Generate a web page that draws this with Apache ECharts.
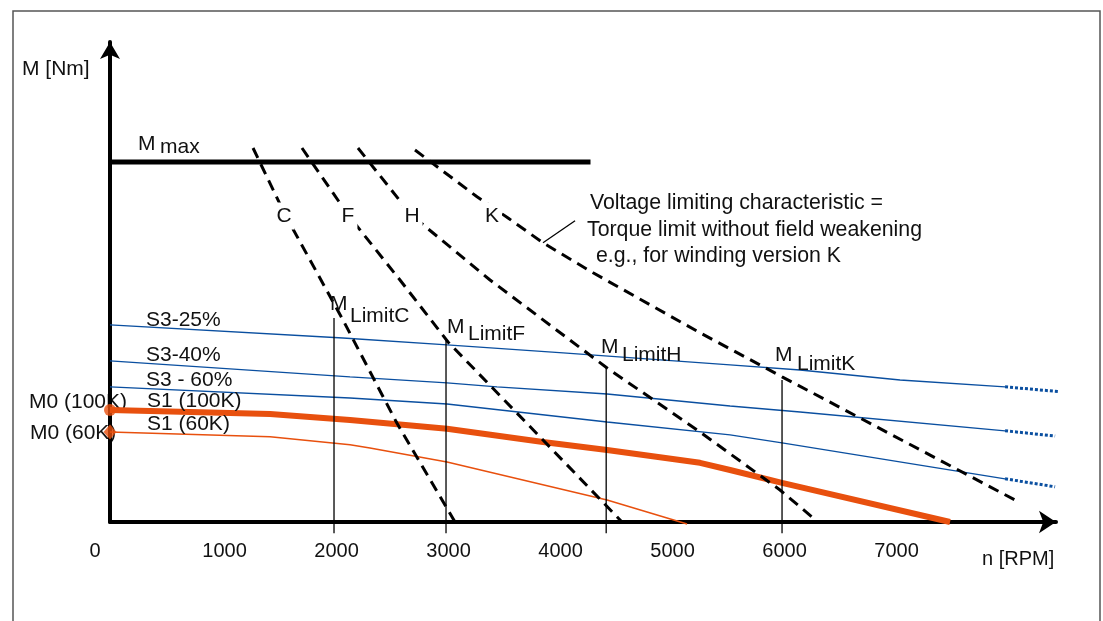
<!DOCTYPE html>
<html><head><meta charset="utf-8">
<script src="https://cdn.jsdelivr.net/npm/echarts@6/dist/echarts.min.js"></script>
<style>html,body{margin:0;padding:0;background:#fff}#c{width:1103px;height:621px}</style>
</head><body><div id="c"></div>
<script>
// ---- data (x: n [RPM], y: M [arbitrary Nm units]) ----
const xTicks = [0, 1000, 2000, 3000, 4000, 5000, 6000, 7000];
const xTickLabels = ['0', '1000', '2000', '3000', '4000', '5000', '6000', '7000'];
const mMax = [[0, 90], [4290, 90]];
const curveC = [[1277, 93.5], [1560, 77], [2080, 50.5], [2560, 24.8], [3080, 0]];
const curveF = [[1714, 93.5], [2125, 76.8], [2589, 60.5], [3018, 45], [3866, 20.5], [4571, 0]];
const curveH = [[2214, 93.5], [2688, 76.8], [3393, 60.5], [4438, 38.5], [5268, 22.5], [5982, 8], [6321, 0]];
const curveK = [[2723, 93], [3277, 81.3], [3554, 76], [3866, 69.8], [4313, 62.3], [5268, 47.3], [6000, 36.3], [8080, 5.5]];
const s3_25 = [[0, 49.3], [2080, 46], [3009, 44.3], [4045, 42.3], [5536, 39.3], [6161, 38], [7054, 35.5], [7991, 33.8]];
const s3_25ext = [[7991, 33.8], [8589, 32.3]];
const s3_40 = [[0, 40.3], [2143, 36.3], [3009, 34.8], [3455, 33.8], [4438, 32], [5536, 29], [6161, 27.5], [7991, 22.8]];
const s3_40ext = [[7991, 22.8], [8438, 21.5]];
const s3_60 = [[0, 33.8], [2143, 31], [3009, 29.5], [4438, 25], [5536, 21.8], [6000, 19.8], [7991, 10.8]];
const s3_60ext = [[7991, 10.8], [8438, 8.8]];
const s1_100K = [[0, 28], [1429, 27], [2143, 25.5], [3009, 23.3], [3866, 20], [4438, 18], [5268, 14.8], [5536, 13], [6000, 9.8], [7500, 0]];
const s1_60K = [[0, 22.5], [1429, 21.3], [2143, 19.3], [2321, 18.5], [3009, 15], [4438, 5.5], [5152, -0.5]];
const m0_100K = [[0, 28]];
const m0_60K = [[0, 22.5]];
const limitX = [2000, 3000, 4430, 6000];
const limitTop = [51, 45.3, 38.8, 35.5];
const limitBottom = -2.8;
const leader = [[3866, 69.8], [4152, 75.3]];

const FONT = 'Liberation Sans, Arial, sans-serif';
const ORANGE = '#e8500e';
const BLUE = '#0a4fa0';
const DASH = [11, 7];

function line(data, color, width, type, z) {
  return { type: 'line', data: data, symbol: 'none', clip: false, silent: true, animation: false,
    z: z || 2, lineStyle: { color: color, width: width, type: type || 'solid', cap: 'butt' } };
}

const series = [
  line(s3_25, BLUE, 1.3), line(s3_25ext, BLUE, 3, [3, 2]),
  line(s3_40, BLUE, 1.3), line(s3_40ext, BLUE, 3, [3, 2]),
  line(s3_60, BLUE, 1.3), line(s3_60ext, BLUE, 3, [3, 2]),
  line(s1_60K, ORANGE, 1.5),
  line(s1_100K, ORANGE, 6),
  line(mMax, '#000', 5),
  line(curveC, '#000', 3, DASH, 3),
  line(curveF, '#000', 3, DASH, 3),
  line(curveH, '#000', 3, DASH, 3),
  line(curveK, '#000', 3, DASH, 3),
  line(leader, '#000', 1.3, 'solid', 3)
];
limitX.forEach(function (x, i) {
  series.push(line([[x, limitTop[i]], [x, limitBottom]], '#000', 1.3, 'solid', 3));
});
series.push({ type: 'scatter', data: m0_100K, symbol: 'circle', symbolSize: 12, clip: false, silent: true,
  itemStyle: { color: ORANGE }, z: 5, animation: false });
series.push({ type: 'scatter', data: m0_60K, symbol: 'diamond', symbolSize: [13, 15], clip: false, silent: true,
  itemStyle: { color: ORANGE }, z: 5, animation: false });

function txt(t, x, y, size, opts) {
  const o = { type: 'text', x: x, y: y, z: 50,
    style: Object.assign({ text: t, fill: '#111', font: (size || 21) + 'px ' + FONT,
      align: 'left', verticalAlign: 'middle' }, opts || {}) };
  return o;
}
const gapBg = { backgroundColor: '#fff', padding: [3, 3], align: 'center' };

const graphic = [
  { type: 'rect', shape: { x: 13, y: 11, width: 1087, height: 650 }, z: 0,
    style: { fill: 'none', stroke: '#555', lineWidth: 1.5 } },
  txt('M [Nm]', 22, 69),
  txt('n [RPM]', 982, 559, 20),
  txt('M', 138, 144), txt('max', 160, 147),
  txt('C', 284, 216, 21, gapBg), txt('F', 348, 216, 21, gapBg),
  txt('H', 412, 216, 21, gapBg), txt('K', 492, 216, 21, gapBg),
  txt('Voltage limiting characteristic =', 590, 203, 21.3),
  txt('Torque limit without field weakening', 587, 230, 21.3),
  txt('e.g., for winding version K', 596, 256, 21.3),
  txt('M', 330, 304), txt('LimitC', 350, 316),
  txt('M', 447, 327), txt('LimitF', 468, 334),
  txt('M', 601, 347), txt('LimitH', 622, 355),
  txt('M', 775, 355), txt('LimitK', 797, 364),
  txt('S3-25%', 146, 320), txt('S3-40%', 146, 355), txt('S3 - 60%', 146, 380),
  txt('S1 (100K)', 147, 401), txt('S1 (60K)', 147, 424),
  Object.assign(txt('M0 (100K)', 29, 402), { z: -1 }),
  Object.assign(txt('M0 (60K)', 30, 433), { z: -1 })
];

const chart = echarts.init(document.getElementById('c'), null, { renderer: 'canvas' });
chart.setOption({
  animation: false,
  backgroundColor: '#fff',
  grid: { left: 110, right: 47, top: 42, bottom: 99 },
  xAxis: {
    type: 'value', min: 0, max: 8446, interval: 1000,
    axisLine: { show: true, onZero: false, symbol: ['none', 'arrow'], symbolSize: [17, 17],
      lineStyle: { color: '#000', width: 4 } },
    axisTick: { show: false }, splitLine: { show: false },
    axisLabel: {
      margin: 19, color: '#111', fontSize: 20, fontFamily: FONT, showMaxLabel: false,
      formatter: function (v) {
        const i = xTicks.indexOf(v);
        if (i < 0) return '';
        return i === 0 ? '{z|' + xTickLabels[i] + '}' : '{n|' + xTickLabels[i] + '}';
      },
      rich: {
        z: { fontSize: 20, fontFamily: FONT, color: '#111', padding: [0, 30, 0, 0] },
        n: { fontSize: 20, fontFamily: FONT, color: '#111', padding: [0, 0, 0, 5] }
      }
    }
  },
  yAxis: {
    type: 'value', min: 0, max: 120,
    axisLine: { show: true, onZero: false, symbol: ['none', 'arrow'], symbolSize: [15, 17],
      lineStyle: { color: '#000', width: 4 } },
    axisTick: { show: false }, splitLine: { show: false }, axisLabel: { show: false }
  },
  series: series,
  graphic: graphic
});
</script>
</body></html>
